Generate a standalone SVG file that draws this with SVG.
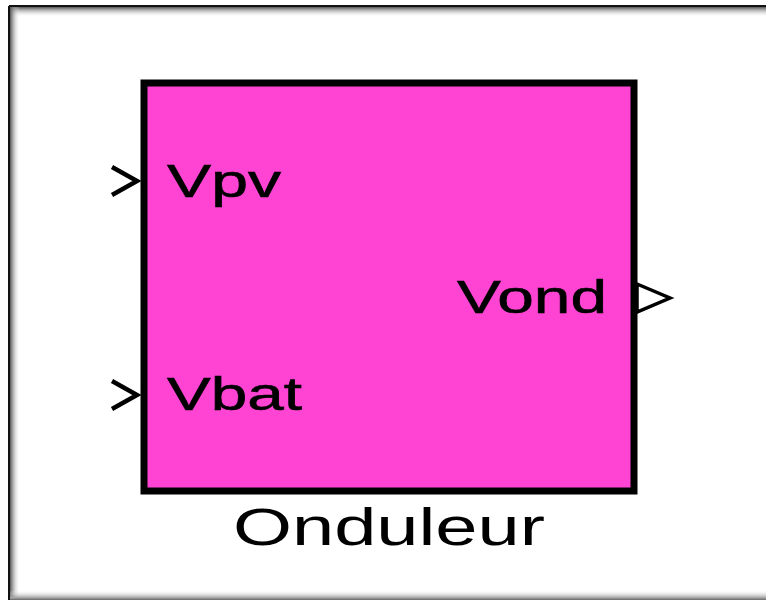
<svg xmlns="http://www.w3.org/2000/svg" width="766" height="603" viewBox="0 0 766 603">
<defs>
<linearGradient id="shT" x1="0" y1="0" x2="0" y2="1"><stop offset="0" stop-color="#555"/><stop offset="1" stop-color="#fff" stop-opacity="0"/></linearGradient>
<linearGradient id="shL" x1="0" y1="0" x2="1" y2="0"><stop offset="0" stop-color="#555"/><stop offset="1" stop-color="#fff" stop-opacity="0"/></linearGradient>
<linearGradient id="shB" x1="0" y1="0" x2="0" y2="1"><stop offset="0" stop-color="#fff" stop-opacity="0"/><stop offset="1" stop-color="#666"/></linearGradient>
<style>
.lbl{font-family:"Liberation Sans",Arial,sans-serif;fill:#000;stroke:#000;stroke-width:0.6;}
.cap{font-family:"Liberation Sans",Arial,sans-serif;fill:#000;}
.port{fill:none;stroke:#000;stroke-width:4.5;stroke-linejoin:miter;}
</style>
</defs>
<rect x="0" y="0" width="766" height="603" fill="#fff"/>
<g id="frame">
<rect x="10" y="7" width="756" height="10" fill="url(#shT)"/>
<rect x="10" y="7" width="10" height="590" fill="url(#shL)"/>
<rect x="10" y="590" width="756" height="10" fill="url(#shB)"/>
<line x1="9" y1="6" x2="766" y2="6" stroke="#111" stroke-width="2"/>
<line x1="9" y1="6" x2="9" y2="600" stroke="#111" stroke-width="2"/>
</g>
<g id="onduleur">
<rect x="144" y="83" width="490" height="408" fill="#FF44D4" stroke="#000" stroke-width="7"/>
<text class="lbl" x="167" y="197" font-size="46" textLength="114" lengthAdjust="spacingAndGlyphs">Vpv</text>
<text class="lbl" x="167" y="410" font-size="46" textLength="135" lengthAdjust="spacingAndGlyphs">Vbat</text>
<text class="lbl" x="457" y="313" font-size="46" textLength="150" lengthAdjust="spacingAndGlyphs">Vond</text>
<text class="cap" x="233" y="545" font-size="51" textLength="312" lengthAdjust="spacingAndGlyphs">Onduleur</text>
</g>
<g id="ports">
<polyline class="port" points="112,167 137,181 112,195"/>
<polyline class="port" points="112,381 137,395 112,409"/>
<polygon points="637,284 670,298 637,312" fill="none" stroke="#000" stroke-width="3.5"/>
</g>
</svg>
